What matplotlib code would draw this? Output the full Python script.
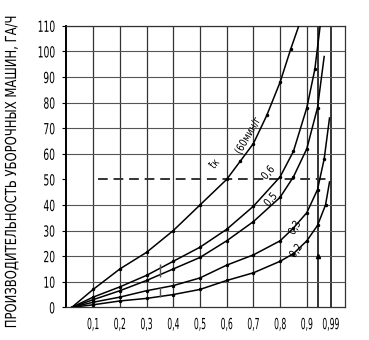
import numpy as np
import matplotlib
matplotlib.use("Agg")
import matplotlib.pyplot as plt
from matplotlib.patheffects import AbstractPathEffect
from matplotlib.transforms import Affine2D

plt.rcParams["font.family"] = ["DejaVu Sans"]

# кривые производительности
x_tk = [0.02, 0.1, 0.2, 0.3, 0.4, 0.5, 0.6, 0.65, 0.7, 0.75, 0.8, 0.84, 0.87]
y_tk = [0, 7, 15, 21.5, 30, 40, 50, 57, 64, 75, 88, 101, 110]

x_06 = [0.02, 0.1, 0.2, 0.3, 0.4, 0.5, 0.6, 0.7, 0.8, 0.85, 0.9, 0.93, 0.95]
y_06 = [0, 4, 8, 12.5, 18, 23.5, 30.5, 39.5, 51, 61, 78, 93, 110]

x_05 = [0.02, 0.1, 0.2, 0.3, 0.4, 0.5, 0.6, 0.7, 0.8, 0.85, 0.9, 0.94, 0.965]
y_05 = [0, 3, 6.5, 10.5, 15, 19.5, 26, 33.5, 43, 51, 62, 78, 98]

x_03 = [0.02, 0.1, 0.2, 0.3, 0.4, 0.5, 0.6, 0.7, 0.8, 0.85, 0.9, 0.94, 0.965, 0.985]
y_03 = [0, 2, 4, 6.5, 8.5, 11.5, 16.5, 20.5, 26, 31, 37, 46, 58, 74]

x_02 = [0.02, 0.1, 0.2, 0.3, 0.4, 0.5, 0.6, 0.7, 0.8, 0.85, 0.9, 0.94, 0.97, 0.985]
y_02 = [0, 1, 2.5, 3.5, 5, 7, 10.5, 13.5, 18, 21, 26, 32, 40, 49]

x_ticks = [0.1, 0.2, 0.3, 0.4, 0.5, 0.6, 0.7, 0.8, 0.9, 0.99]
x_labels = ["0,1", "0,2", "0,3", "0,4", "0,5", "0,6", "0,7", "0,8", "0,9", "0,99"]
y_ticks = list(range(0, 111, 10))
extra_vlines = [0.94, 0.99]
level = 50


class Squeeze(AbstractPathEffect):
    """Сжимает текст по ширине (узкий шрифт как в оригинале)."""

    def __init__(self, sx, anchor="center"):
        super().__init__()
        self.sx = sx
        self.anchor = anchor

    def draw_path(self, renderer, gc, tpath, affine, rgbFace=None):
        ext = tpath.get_extents()
        if self.anchor == "right":
            cx = ext.x1
        elif self.anchor == "left":
            cx = ext.x0
        else:
            cx = (ext.x0 + ext.x1) / 2
        t = Affine2D().translate(-cx, 0).scale(self.sx, 1).translate(cx, 0)
        renderer.draw_path(gc, tpath, t + affine, rgbFace)


fig = plt.figure(figsize=(3.69, 3.40), dpi=100)
ax = fig.add_axes([0.180, 0.096, 0.755, 0.828])

# сетка
for xv in x_ticks[:-1]:
    ax.axvline(xv, color="#333333", lw=0.9, zorder=1)
for xv in extra_vlines:
    ax.axvline(xv, color="#111111", lw=1.2, zorder=1)
for yv in y_ticks[1:]:
    if yv != level:
        ax.axhline(yv, color="#555555", lw=0.8, zorder=1)
ax.hlines(level, 0.12, 0.99, colors="#333333", lw=1.4,
          linestyles=(0, (5, 3)), zorder=2)

# кривые
for xs, ys in [(x_tk, y_tk), (x_06, y_06), (x_05, y_05), (x_03, y_03), (x_02, y_02)]:
    ax.plot(xs, ys, color="black", lw=1.1, zorder=3,
            marker="o", ms=1.5, markevery=slice(1, -1))

# отметки
ax.vlines(0.35, 12, 17, colors="#555555", lw=1.0, zorder=3)
ax.vlines(0.35, 4, 8, colors="#555555", lw=1.0, zorder=3)
ax.plot([0.94], [20], marker="^", ms=3, color="black", zorder=3)

# подписи кривых
sq = [Squeeze(0.8)]
txt = dict(fontsize=8, color="black", ha="center", va="center", path_effects=sq)
ax.text(0.555, 56, "t\u0304к", rotation=50, **txt)
ax.text(0.68, 67, "(60мин/г", rotation=60, **txt)
ax.text(0.755, 52.5, "0,6", rotation=50, **txt)
ax.text(0.765, 42, "0,5", rotation=50, **txt)
ax.text(0.855, 31, "0,3", rotation=60, **txt)
ax.text(0.86, 22, "0,2", rotation=55, **txt)

ax.set_xlim(0, 1.043)
ax.set_ylim(0, 110)
ax.set_xticks(x_ticks)
xl = ax.set_xticklabels(x_labels, fontsize=11)
ax.set_yticks(y_ticks)
yl = ax.set_yticklabels([str(v) for v in y_ticks], fontsize=11)
for t in xl:
    t.set_path_effects([Squeeze(0.5)])
for t in yl:
    t.set_path_effects([Squeeze(0.6, "right")])
ax.tick_params(axis="x", length=0, pad=7)
ax.tick_params(axis="y", length=3, width=0.8, pad=5)

for side in ["top", "right", "bottom"]:
    ax.spines[side].set_linewidth(0.9)
    ax.spines[side].set_color("#333333")
ax.spines["left"].set_linewidth(1.4)

ylab = ax.set_ylabel("ПРОИЗВОДИТЕЛЬНОСТЬ УБОРОЧНЫХ МАШИН, ГА/Ч", fontsize=11)
ylab.set_path_effects([Squeeze(0.76)])
ax.yaxis.set_label_coords(-0.17, 0.48)

fig.savefig("out.png", dpi=100)
